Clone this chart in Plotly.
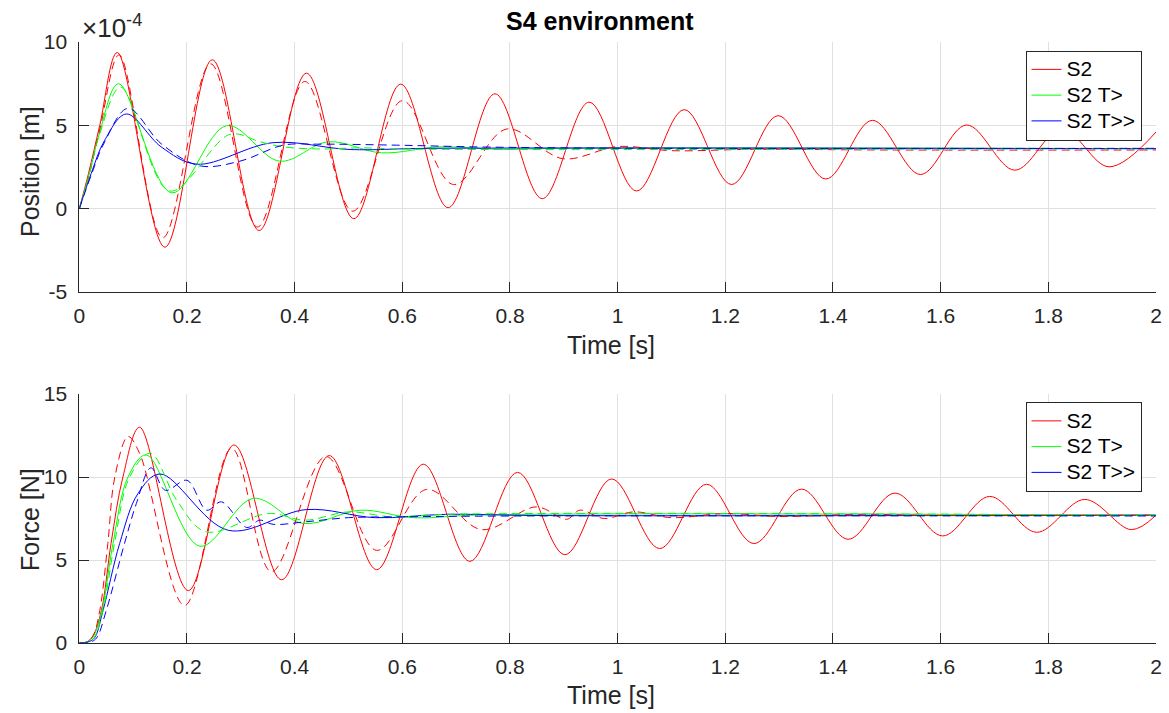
import plotly.graph_objects as go

# ---------------- data ----------------
# Position, in units of 1e-4 m
pos_s2_t = [0, 0.017, 0.038, 0.0706, 0.159, 0.247, 0.334, 0.422, 0.510, 0.597, 0.685, 0.772, 0.860,
            0.947, 1.035, 1.1235, 1.2115, 1.298, 1.3866, 1.473, 1.5625, 1.648, 1.7376, 1.825, 1.9127, 2.0]
pos_s2_v = [0, 2.1, 5.0, 9.37, -2.31, 8.93, -1.31, 8.13, -0.6, 7.47, 0.06, 6.89, 0.6,
            6.39, 1.06, 5.94, 1.45, 5.58, 1.78, 5.3, 2.05, 5.02, 2.31, 4.78, 2.51, 4.6]
pos_s2d_t = [0, 0.018, 0.039, 0.074, 0.155, 0.244, 0.331, 0.419, 0.508, 0.600, 0.695, 0.794, 0.898,
             1.0, 1.1, 1.25, 1.5, 2.0]
pos_s2d_v = [0, 2.0, 4.9, 9.23, -1.75, 8.69, -1.1, 7.63, -0.15, 6.48, 1.45, 4.78, 3.0,
             3.73, 3.48, 3.56, 3.52, 3.52]
pos_t1_t = [0, 0.018, 0.038, 0.073, 0.172, 0.274, 0.372, 0.4624, 0.5616, 0.67, 0.78, 0.9, 2.0]
pos_t1_v = [0, 2.0, 4.6, 7.49, 0.95, 4.98, 2.85, 4.01, 3.35, 3.71, 3.56, 3.62, 3.6]
pos_t1d_t = [0, 0.018, 0.038, 0.077, 0.168, 0.280, 0.336, 0.379, 0.45, 0.52, 0.6, 2.0]
pos_t1d_v = [0, 2.0, 4.5, 7.29, 1.06, 4.46, 4.01, 3.71, 3.58, 3.65, 3.58, 3.6]
pos_t2_t = [0, 0.022, 0.047, 0.0873, 0.152, 0.218, 0.36, 0.503, 0.65, 2.0]
pos_t2_v = [0, 2.1, 4.1, 5.68, 3.71, 2.67, 3.96, 3.55, 3.62, 3.6]
pos_t2d_t = [0, 0.022, 0.047, 0.0904, 0.152, 0.224, 0.2984, 0.379, 0.441, 0.589, 0.75, 1.0, 2.0]
pos_t2d_v = [0, 2.0, 4.0, 6.02, 3.9, 2.57, 2.85, 3.81, 3.87, 3.81, 3.7, 3.63, 3.62]

# Force, N
frc_s2_t = [0, 0.013, 0.025, 0.041, 0.059, 0.081, 0.112, 0.2024, 0.2873, 0.3758, 0.4643, 0.5523, 0.639,
            0.7255, 0.814, 0.902, 0.9887, 1.078, 1.165, 1.253, 1.3415, 1.428, 1.515, 1.6035, 1.691,
            1.778, 1.8676, 1.954, 2.0]
frc_s2_v = [0, 0.05, 0.4, 1.95, 6.0, 10.0, 13.0, 3.16, 11.93, 3.81, 11.29, 4.42, 10.77,
            4.92, 10.28, 5.32, 9.88, 5.69, 9.56, 5.99, 9.27, 6.25, 9.03, 6.45, 8.83,
            6.67, 8.65, 6.83, 7.7]
frc_s2d_t = [0, 0.013, 0.025, 0.038, 0.053, 0.066, 0.0905, 0.112, 0.1957, 0.283, 0.357, 0.4581, 0.5523,
             0.645, 0.747, 0.849, 0.905, 0.93, 0.975, 1.03, 1.1, 1.2, 1.3, 1.45, 1.6, 2.0]
frc_s2d_v = [0, 0.05, 0.4, 1.95, 6.0, 10.0, 12.44, 11.43, 2.26, 11.73, 4.3, 11.23, 5.58,
             9.25, 6.83, 8.2, 7.45, 8.0, 7.5, 7.9, 7.55, 7.8, 7.62, 7.75, 7.68, 7.7]
frc_t1_t = [0, 0.013, 0.025, 0.042, 0.0626, 0.0905, 0.1245, 0.2241, 0.3232, 0.416, 0.522, 0.62, 0.75, 2.0]
frc_t1_v = [0, 0.05, 0.35, 1.95, 6.0, 10.0, 11.33, 5.83, 8.71, 7.2, 8.0, 7.55, 7.72, 7.7]
frc_t1d_t = [0, 0.014, 0.027, 0.044, 0.0654, 0.0935, 0.132, 0.181, 0.235, 0.351, 0.42, 0.5, 0.58, 0.68, 2.0]
frc_t1d_v = [0, 0.05, 0.3, 1.95, 6.0, 10.0, 11.43, 8.6, 6.7, 7.8, 7.4, 7.9, 7.6, 7.75, 7.7]
frc_t2_t = [0, 0.015, 0.028, 0.044, 0.075, 0.109, 0.1499, 0.2767, 0.4223, 0.55, 0.68, 0.85, 2.0]
frc_t2_v = [0, 0.05, 0.3, 1.95, 6.0, 9.0, 10.18, 6.79, 8.04, 7.55, 7.75, 7.68, 7.7]
frc_t2d_t = [0, 0.02, 0.032, 0.05, 0.084, 0.106, 0.133, 0.16, 0.2, 0.2366, 0.264, 0.311, 0.335, 0.36,
             0.42, 0.5, 0.6, 0.8, 2.0]
frc_t2d_v = [0, 0.05, 0.3, 1.95, 6.0, 8.4, 10.55, 9.2, 9.8, 8.0, 8.5, 6.96, 7.4, 7.15,
             7.3, 7.55, 7.6, 7.65, 7.65]

series_names = ["S2", "S2 T>", "S2 T>>"]
x_tick_vals = [0, 0.2, 0.4, 0.6, 0.8, 1, 1.2, 1.4, 1.6, 1.8, 2]
x_tick_text = ["0", "0.2", "0.4", "0.6", "0.8", "1", "1.2", "1.4", "1.6", "1.8", "2"]
pos_tick_vals = [-5, 0, 5, 10]
pos_tick_text = ["-5", "0", "5", "10"]
frc_tick_vals = [0, 5, 10, 15]
frc_tick_text = ["0", "5", "10", "15"]

# ---------------- figure ----------------
W, H = 1169, 713
FONT = "Liberation Sans, Arial, Helvetica, sans-serif"
TXT = "#262626"
colors = ["#FF0000", "#00FF00", "#0000FF"]
DASH = "8px,5px"


def leg_name(s):
    # larger visible text while keeping compact legend rows
    return "<span style='font-size:21px'>" + s.replace(">", "&gt;") + "</span>"


fig = go.Figure()

pos_solid = [(pos_s2_t, pos_s2_v), (pos_t1_t, pos_t1_v), (pos_t2_t, pos_t2_v)]
pos_dash = [(pos_s2d_t, pos_s2d_v), (pos_t1d_t, pos_t1d_v), (pos_t2d_t, pos_t2d_v)]
frc_solid = [(frc_s2_t, frc_s2_v), (frc_t1_t, frc_t1_v), (frc_t2_t, frc_t2_v)]
frc_dash = [(frc_s2d_t, frc_s2d_v), (frc_t1d_t, frc_t1d_v), (frc_t2d_t, frc_t2d_v)]

for i, (t, v) in enumerate(pos_solid):
    fig.add_trace(go.Scatter(x=t, y=v, mode="lines", name=leg_name(series_names[i]),
                             line=dict(color=colors[i], width=1, shape="spline", smoothing=1),
                             xaxis="x", yaxis="y", legend="legend"))
for i, (t, v) in enumerate(pos_dash):
    fig.add_trace(go.Scatter(x=t, y=v, mode="lines", showlegend=False,
                             line=dict(color=colors[i], width=1, dash=DASH, shape="spline", smoothing=1),
                             xaxis="x", yaxis="y"))
for i, (t, v) in enumerate(frc_solid):
    fig.add_trace(go.Scatter(x=t, y=v, mode="lines", name=leg_name(series_names[i]),
                             line=dict(color=colors[i], width=1, shape="spline", smoothing=1),
                             xaxis="x2", yaxis="y2", legend="legend2"))
for i, (t, v) in enumerate(frc_dash):
    fig.add_trace(go.Scatter(x=t, y=v, mode="lines", showlegend=False,
                             line=dict(color=colors[i], width=1, dash=DASH, shape="spline", smoothing=1),
                             xaxis="x2", yaxis="y2"))

x0, x1 = 79.3 / W, 1156.0 / W
top_dom = [1 - 292.0 / H, 1 - 42.0 / H]
bot_dom = [1 - 643.0 / H, 1 - 394.0 / H]

axis_common = dict(showgrid=True, gridcolor="#E0E0E0", gridwidth=1, zeroline=False,
                   showline=True, linecolor=TXT, linewidth=1, ticks="inside", ticklen=10,
                   tickcolor=TXT, tickwidth=1, tickfont=dict(family=FONT, size=21, color=TXT),
                   automargin=False, mirror=False)

leg_common = dict(xanchor="left", yanchor="top", bgcolor="white", bordercolor=TXT, borderwidth=1,
                  font=dict(family=FONT, size=17.5, color="#000000"), itemwidth=30, tracegroupgap=0)

fig.update_layout(
    width=W, height=H,
    margin=dict(l=0, r=0, t=0, b=0),
    paper_bgcolor="white", plot_bgcolor="white",
    font=dict(family=FONT, color=TXT),
    xaxis=dict(domain=[x0, x1], range=[0, 2], anchor="y", tickvals=x_tick_vals, ticktext=x_tick_text,
               ticklabelstandoff=5, **axis_common),
    yaxis=dict(domain=top_dom, range=[-5, 10], anchor="x", tickvals=pos_tick_vals, ticktext=pos_tick_text,
               ticklabelstandoff=7, **axis_common),
    xaxis2=dict(domain=[x0, x1], range=[0, 2], anchor="y2", tickvals=x_tick_vals, ticktext=x_tick_text,
                ticklabelstandoff=5, **axis_common),
    yaxis2=dict(domain=bot_dom, range=[0, 15], anchor="x2", tickvals=frc_tick_vals, ticktext=frc_tick_text,
                ticklabelstandoff=7, **axis_common),
    legend=dict(x=1025.5 / W, y=1 - 50.5 / H, **leg_common),
    legend2=dict(x=1025.5 / W, y=1 - 402.0 / H, **leg_common),
    showlegend=True,
)

ann = [
    dict(text="<b>S4 environment</b>", x=600.0 / W, y=1 - 21.0 / H, font=dict(size=25, color="#000000")),
    dict(text="\u00d710<sup>-4</sup>", x=80.0 / W, y=1 - 26.0 / H, xanchor="left", font=dict(size=26, color=TXT)),
    dict(text="Position [m]", x=30.0 / W, y=1 - 172.0 / H, textangle=-90, font=dict(size=25, color=TXT)),
    dict(text="Force [N]", x=30.0 / W, y=1 - 520.0 / H, textangle=-90, font=dict(size=25, color=TXT)),
    dict(text="Time [s]", x=611.0 / W, y=1 - 345.0 / H, font=dict(size=25, color=TXT)),
    dict(text="Time [s]", x=611.0 / W, y=1 - 695.0 / H, font=dict(size=25, color=TXT)),
]
for a in ann:
    base = dict(xref="paper", yref="paper", showarrow=False, xanchor="center", yanchor="middle")
    base.update(a)
    base["font"] = dict(family=FONT, **a["font"])
    fig.add_annotation(**base)

fig.write_html("out.html")
